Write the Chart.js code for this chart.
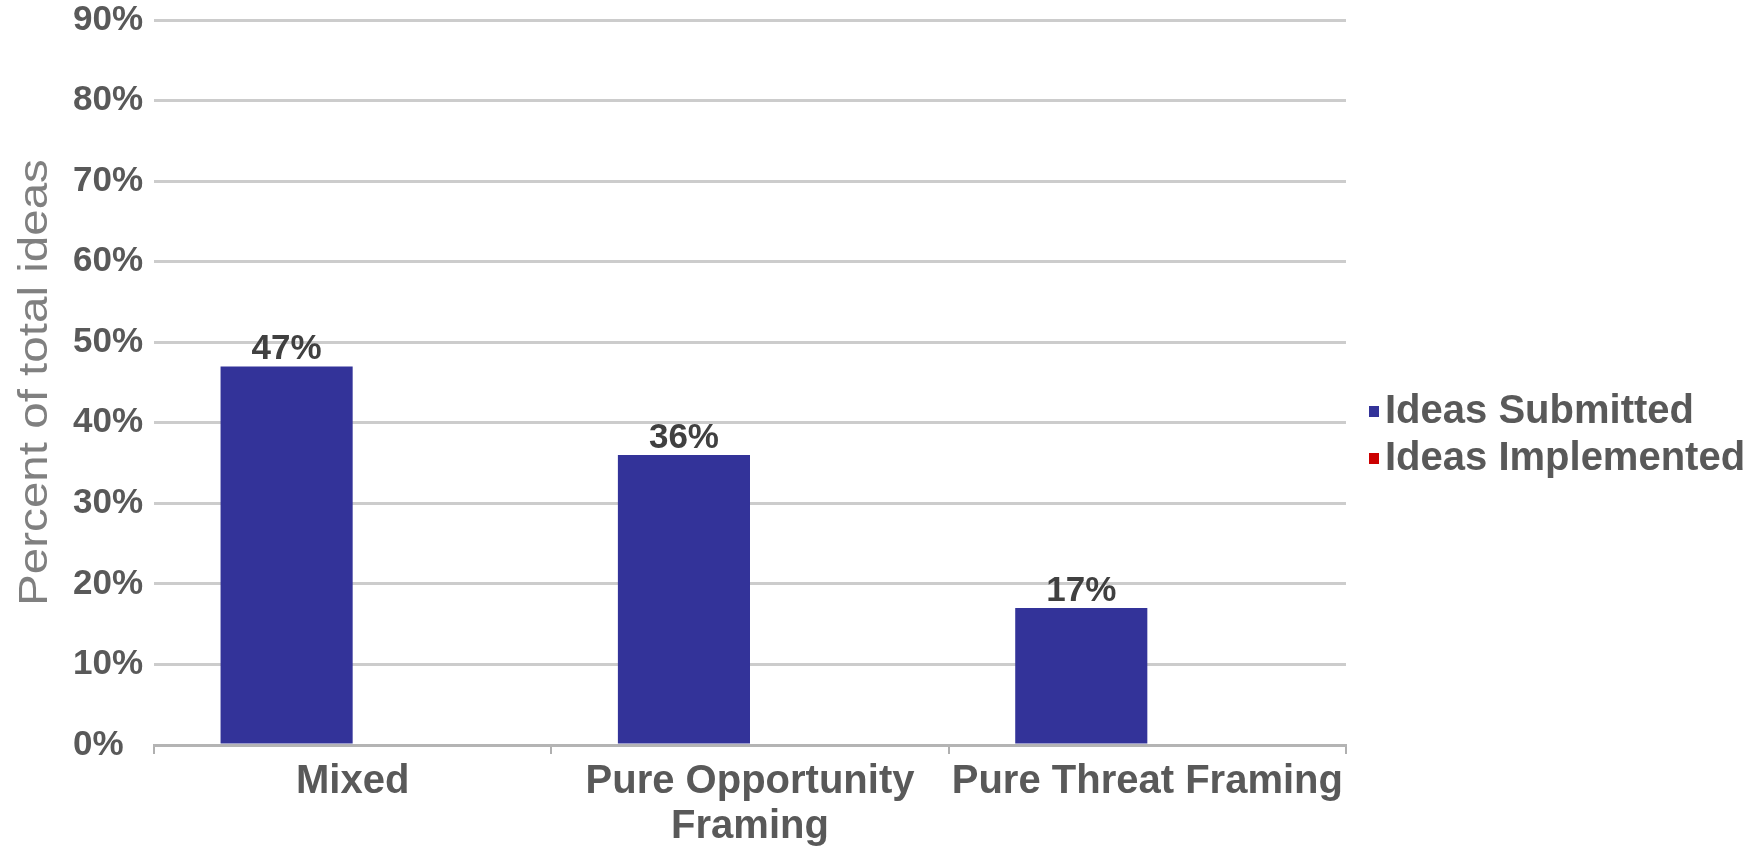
<!DOCTYPE html>
<html>
<head>
<meta charset="utf-8">
<script src="https://cdn.jsdelivr.net/npm/chart.js@4/dist/chart.umd.min.js"></script>
<style>
  html, body { margin: 0; padding: 0; background: #ffffff; }
  #wrap { width: 1761px; height: 846px; position: relative; }
</style>
</head>
<body>
<div id="wrap"><canvas id="c" width="1761" height="846"></canvas></div>
<script>
const categories = ["Mixed", ["Pure Opportunity", "Framing"], "Pure Threat Framing"];
const seriesNames = ["Ideas Submitted", "Ideas Implemented"];
const ideasSubmitted = [47, 36, 17];
const ideasImplemented = [0, 0, 0];
const yTicksMax = 90;
const yTickStep = 10;
const yTitle = "Percent of total ideas";

const FONT = "'Liberation Sans', Arial, sans-serif";
const colors = ["#333399", "#cc0000"];

const dataLabelPlugin = {
  id: "dataLabels",
  afterDatasetsDraw(chart) {
    const ctx = chart.ctx;
    const meta = chart.getDatasetMeta(0);
    const ds = chart.data.datasets[0];
    ctx.save();
    ctx.font = "bold 35px " + FONT;
    ctx.fillStyle = "#404040";
    ctx.textAlign = "center";
    ctx.textBaseline = "alphabetic";
    meta.data.forEach((bar, i) => {
      ctx.fillText(ds.data[i] + "%", bar.x, bar.y - 7);
    });
    ctx.restore();
  }
};

const yTitlePlugin = {
  id: "yTitle",
  afterDraw(chart) {
    const ctx = chart.ctx;
    const area = chart.chartArea;
    ctx.save();
    ctx.translate(36, (area.top + area.bottom) / 2);
    ctx.rotate(-Math.PI / 2);
    ctx.scale(1.16, 1);
    ctx.font = "41px " + FONT;
    ctx.fillStyle = "#808080";
    ctx.textAlign = "center";
    ctx.textBaseline = "middle";
    ctx.fillText(yTitle, 0, 0);
    ctx.restore();
  }
};

const legendPlugin = {
  id: "customLegend",
  afterDraw(chart) {
    const ctx = chart.ctx;
    ctx.save();
    ctx.font = "bold 40px " + FONT;
    ctx.textBaseline = "middle";
    ctx.textAlign = "left";
    chart.data.datasets.forEach((ds, i) => {
      const cy = 411 + i * 47;
      ctx.fillStyle = ds.backgroundColor;
      ctx.fillRect(1369, cy - 5, 10, 11);
      ctx.fillStyle = "#595959";
      ctx.fillText(ds.label, 1385, cy + 1);
    });
    ctx.restore();
  }
};

new Chart(document.getElementById("c"), {
  type: "bar",
  data: {
    labels: categories,
    datasets: [
      { label: seriesNames[0], data: ideasSubmitted, backgroundColor: colors[0], borderWidth: 0 },
      { label: seriesNames[1], data: ideasImplemented, backgroundColor: colors[1], borderWidth: 0 }
    ]
  },
  options: {
    responsive: false,
    animation: false,
    maintainAspectRatio: false,
    layout: { padding: { left: 73, right: 415, top: 20, bottom: 0 } },
    categoryPercentage: 0.665,
    barPercentage: 1.0,
    plugins: {
      legend: { display: false },
      tooltip: { enabled: false }
    },
    scales: {
      x: {
        grid: {
          display: true,
          drawOnChartArea: false,
          drawTicks: true,
          tickLength: 9,
          color: "#b0b0b0",
          lineWidth: 2,
          offset: true
        },
        border: { display: true, color: "#b4b4b4", width: 3 },
        ticks: {
          color: "#595959",
          font: { family: FONT, size: 40, weight: "bold", lineHeight: 1.12 },
          padding: 6,
          maxRotation: 0,
          autoSkip: false
        },
        afterFit(scale) {
          scale.height = 101;
          scale.paddingLeft = 0;
          scale.paddingRight = 0;
        }
      },
      y: {
        min: 0,
        max: yTicksMax,
        grid: { color: "#cccccc", lineWidth: 3, drawTicks: false },
        border: { display: false },
        ticks: {
          stepSize: yTickStep,
          color: "#595959",
          crossAlign: "far",
          padding: 8,
          font: { family: FONT, size: 35, weight: "bold" },
          callback: (v) => v + "%"
        },
        afterFit(scale) {
          scale.width = 81;
          scale.paddingTop = 0;
          scale.paddingBottom = 0;
        }
      }
    }
  },
  plugins: [dataLabelPlugin, yTitlePlugin, legendPlugin]
});
</script>
</body>
</html>
